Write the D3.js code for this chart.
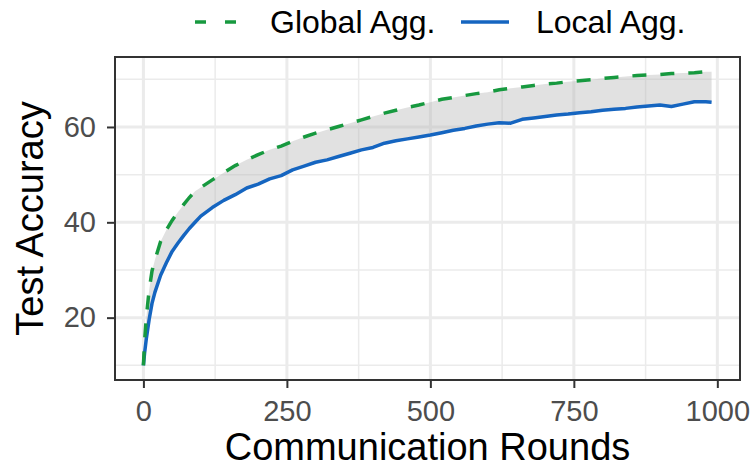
<!DOCTYPE html>
<html>
<head>
<meta charset="utf-8">
<script src="https://cdn.jsdelivr.net/npm/d3@7"></script>
<style>
  body { margin: 0; background: #fff; }
  text { font-family: "Liberation Sans", Arial, Helvetica, sans-serif; }
</style>
</head>
<body>
<div id="chart"></div>
<script>
// rounds and accuracy
const rounds = [0, 2, 5, 10, 15, 20, 30, 40, 50, 60, 70, 80, 90, 100,
  120, 140, 160, 180, 200, 220, 240, 260, 280, 300, 320, 340, 360, 380,
  400, 420, 440, 460, 480, 500, 520, 540, 560, 580, 600, 620, 640, 660,
  680, 700, 720, 740, 760, 780, 800, 820, 840, 860, 880, 900, 920, 940,
  960, 980, 990];

const globalAcc = [10, 15, 20, 25.8, 29.8, 32.1, 36.0, 38.4, 40.4, 42.1, 43.7, 45.2, 46.5, 47.3,
  48.9, 50.4, 51.9, 53.1, 54.2, 55.2, 56.0, 57.0, 57.9, 58.7, 59.4, 60.1, 60.8, 61.5,
  62.2, 62.9, 63.5, 64.1, 64.6, 65.2, 65.8, 66.2, 66.6, 67.0, 67.3, 67.8, 68.1, 68.4,
  68.7, 69.0, 69.2, 69.5, 69.7, 69.9, 70.2, 70.4, 70.6, 70.8, 70.9, 71.0, 71.2, 71.3,
  71.4, 71.6, 71.6];

const localAcc = [10, 12.5, 15.5, 19.6, 23.0, 25.3, 28.9, 31.5, 33.9, 35.6, 37.2, 38.7, 40.0, 41.3,
  43.1, 44.6, 45.8, 47.2, 48.0, 49.1, 49.8, 51.0, 51.8, 52.6, 53.1, 53.8, 54.5, 55.2,
  55.7, 56.6, 57.1, 57.5, 57.9, 58.3, 58.8, 59.3, 59.7, 60.2, 60.6, 60.9, 60.8, 61.6,
  61.9, 62.2, 62.5, 62.7, 63.0, 63.2, 63.5, 63.7, 63.9, 64.2, 64.4, 64.6, 64.3, 64.8,
  65.3, 65.3, 65.2];

const xTicks = [0, 250, 500, 750, 1000];
const xMinor = [125, 375, 625, 875];
const yTicks = [20, 40, 60];
const yMinor = [10, 30, 50, 70];

const seriesNames = ["Global Agg.", "Local Agg."];
const seriesColors = ["#17993f", "#1565c0"];

const W = 755, H = 468;
const panel = { left: 115, right: 740, top: 57, bottom: 380 };

const data = rounds.map(function (r, i) {
  return { round: r, g: globalAcc[i], l: localAcc[i] };
});

const svg = d3.select("#chart").append("svg")
  .attr("width", W)
  .attr("height", H);

// ggplot-style 5% expansion
const xExt = d3.extent(rounds);
const xPad = (xExt[1] - xExt[0]) * 0.05;
const x = d3.scaleLinear()
  .domain([xExt[0] - xPad, xExt[1] + xPad])
  .range([panel.left, panel.right]);

const yMin = d3.min(localAcc.concat(globalAcc));
const yMax = d3.max(localAcc.concat(globalAcc));
const yPad = (yMax - yMin) * 0.05;
const y = d3.scaleLinear()
  .domain([yMin - yPad, yMax + yPad])
  .range([panel.bottom, panel.top]);

// grid lines
const grid = svg.append("g");
grid.selectAll(".ymin").data(yMinor).enter().append("line")
  .attr("x1", panel.left).attr("x2", panel.right)
  .attr("y1", d => y(d)).attr("y2", d => y(d))
  .attr("stroke", "#ebebeb").attr("stroke-width", 1.5);
grid.selectAll(".xmin").data(xMinor).enter().append("line")
  .attr("y1", panel.top).attr("y2", panel.bottom)
  .attr("x1", d => x(d)).attr("x2", d => x(d))
  .attr("stroke", "#ebebeb").attr("stroke-width", 1.5);
grid.selectAll(".ymaj").data(yTicks).enter().append("line")
  .attr("x1", panel.left).attr("x2", panel.right)
  .attr("y1", d => y(d)).attr("y2", d => y(d))
  .attr("stroke", "#ebebeb").attr("stroke-width", 3);
grid.selectAll(".xmaj").data(xTicks).enter().append("line")
  .attr("y1", panel.top).attr("y2", panel.bottom)
  .attr("x1", d => x(d)).attr("x2", d => x(d))
  .attr("stroke", "#ebebeb").attr("stroke-width", 3);

// ribbon between the two curves
const ribbon = d3.area()
  .x(d => x(d.round))
  .y0(d => y(d.l))
  .y1(d => y(d.g));
svg.append("path")
  .datum(data)
  .attr("d", ribbon)
  .attr("fill", "#b3b3b3")
  .attr("fill-opacity", 0.4);

// lines
const lineG = d3.line().x(d => x(d.round)).y(d => y(d.g));
const lineL = d3.line().x(d => x(d.round)).y(d => y(d.l));

svg.append("path")
  .datum(data)
  .attr("d", lineL)
  .attr("fill", "none")
  .attr("stroke", seriesColors[1])
  .attr("stroke-width", 3.5)
  .attr("stroke-linejoin", "round");

svg.append("path")
  .datum(data)
  .attr("d", lineG)
  .attr("fill", "none")
  .attr("stroke", seriesColors[0])
  .attr("stroke-width", 3.5)
  .attr("stroke-dasharray", "14,14");

// panel border
svg.append("rect")
  .attr("x", panel.left).attr("y", panel.top)
  .attr("width", panel.right - panel.left)
  .attr("height", panel.bottom - panel.top)
  .attr("fill", "none")
  .attr("stroke", "#333333")
  .attr("stroke-width", 2);

// axes
const xAxis = svg.append("g")
  .attr("transform", "translate(0," + panel.bottom + ")")
  .call(d3.axisBottom(x).tickValues(xTicks).tickFormat(d3.format("d"))
    .tickSize(8).tickSizeOuter(0).tickPadding(12));
const yAxis = svg.append("g")
  .attr("transform", "translate(" + panel.left + ",0)")
  .call(d3.axisLeft(y).tickValues(yTicks).tickFormat(d3.format("d"))
    .tickSize(8).tickSizeOuter(0).tickPadding(11));

[xAxis, yAxis].forEach(function (ax) {
  ax.select(".domain").remove();
  ax.selectAll(".tick line").attr("stroke", "#333333").attr("stroke-width", 2);
  ax.selectAll(".tick text")
    .attr("fill", "#4d4d4d")
    .style("font-size", "29px")
    .style("font-family", "'Liberation Sans', Arial, Helvetica, sans-serif");
});

// axis titles
svg.append("text")
  .attr("x", (panel.left + panel.right) / 2)
  .attr("y", 460)
  .attr("text-anchor", "middle")
  .style("font-size", "38px")
  .attr("fill", "#000")
  .text("Communication Rounds");

svg.append("text")
  .attr("transform", "translate(43," + (panel.top + panel.bottom) / 2 + ") rotate(-90)")
  .attr("text-anchor", "middle")
  .style("font-size", "38px")
  .attr("fill", "#000")
  .text("Test Accuracy");

// legend
const legendItems = [
  { name: seriesNames[0], color: seriesColors[0], dash: "11,19", x0: 195, tx: 270 },
  { name: seriesNames[1], color: seriesColors[1], dash: null, x0: 461, tx: 536 }
];
const legend = svg.append("g");
legendItems.forEach(function (it) {
  legend.append("line")
    .attr("x1", it.x0).attr("x2", it.x0 + 48)
    .attr("y1", 22).attr("y2", 22)
    .attr("stroke", it.color)
    .attr("stroke-width", 3.5)
    .attr("stroke-dasharray", it.dash);
  legend.append("text")
    .attr("x", it.tx)
    .attr("y", 33)
    .style("font-size", "32px")
    .attr("fill", "#000")
    .text(it.name);
});
</script>
</body>
</html>
